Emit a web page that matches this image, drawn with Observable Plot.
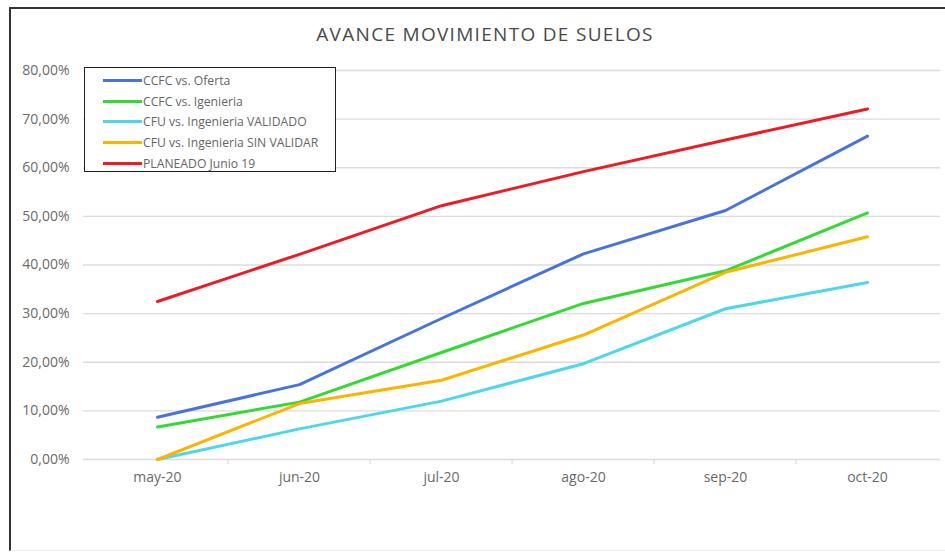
<!DOCTYPE html>
<html><head><meta charset="utf-8">
<script src="https://cdn.jsdelivr.net/npm/d3@7"></script>
<script src="https://cdn.jsdelivr.net/npm/@observablehq/plot@0.6"></script>
<style>
body{margin:0;background:#fff;font-family:"Open Sans",sans-serif;}
#wrap{position:relative;width:945px;height:554px;overflow:hidden;background:#fff;}
#wrap svg{position:absolute;left:0;top:0;}
#frame{position:absolute;left:9px;top:7px;width:960px;height:541px;border-top:2px solid #333;border-left:2px solid #333;border-bottom:1px solid #ececec;}
#title{position:absolute;left:0;width:970px;top:21px;text-align:center;font-size:19px;color:#4a4a4a;letter-spacing:1.3px;}
#legend{position:absolute;left:84px;top:67px;width:252px;height:105px;border:1.5px solid #222;background:#fff;box-sizing:border-box;padding-top:2px;}
.item{display:flex;align-items:center;height:20.8px;font-size:12.2px;color:#666;}
.sw{width:39px;height:3px;margin-left:18px;margin-right:1px;}
</style></head>
<body>
<div id="wrap">
  <div id="frame"></div>
  <div id="title"></div>
  <div id="chart"></div>
  <div id="legend"></div>
</div>
<script>
const titleText = "AVANCE MOVIMIENTO DE SUELOS";
const months = ["may-20","jun-20","jul-20","ago-20","sep-20","oct-20"];
const seriesNames = ["CCFC vs. Oferta","CCFC vs. Igenieria","CFU vs. Ingenieria VALIDADO","CFU vs. Ingenieria SIN VALIDAR","PLANEADO Junio 19"];
const seriesColors = ["#4a72dc","#34d934","#4fd6ea","#fbb400","#ec1c24"];
const ccfcOferta   = [8.7, 15.4, 29.0, 42.3, 51.2, 66.5];
const ccfcIng      = [6.7, 11.8, 22.0, 32.1, 38.8, 50.7];
const cfuValidado  = [0.0, 6.3, 12.0, 19.7, 31.0, 36.4];
const cfuSinValid  = [0.0, 11.5, 16.3, 25.6, 38.5, 45.8];
const planeado     = [32.5, 42.2, 52.2, 59.2, 65.7, 72.1];
const yTicks = [0,10,20,30,40,50,60,70,80];

const allSeries = [ccfcOferta, ccfcIng, cfuValidado, cfuSinValid, planeado];
const data = [];
allSeries.forEach((vals, si) => vals.forEach((v, mi) => data.push({series: seriesNames[si], month: months[mi], value: v})));

document.getElementById("title").textContent = titleText;

const W = 945, H = 554, mL = 83, mR = 5;
const step = (W - mL - mR) / months.length;
const grid = "#dcdcdc";

const chart = Plot.plot({
  width: W, height: H,
  marginLeft: mL, marginRight: mR, marginTop: 70, marginBottom: 95,
  style: {fontFamily: "Open Sans, sans-serif", fontSize: "14px", color: "#6a6a6a", background: "transparent", overflow: "visible"},
  x: {type: "point", domain: months, padding: 0.5, label: null, tickSize: 0, tickPadding: 13},
  y: {domain: [0, 80], ticks: yTicks, tickFormat: d => d.toFixed(2).replace(".", ",") + "%", label: null, tickSize: 0, tickPadding: 14},
  color: {domain: seriesNames, range: seriesColors},
  marks: [
    Plot.ruleY(yTicks, {stroke: grid, strokeWidth: 1.3}),
    Plot.ruleX(months.slice(1), {x: d => d, dx: -step/2, y1: 0, y2: -1.1, stroke: grid, strokeWidth: 1.3}),
    Plot.line(data, {x: "month", y: "value", z: "series", stroke: "series", strokeWidth: 3, strokeLinejoin: "round", strokeLinecap: "round"})
  ]
});
document.getElementById("chart").appendChild(chart);

const leg = document.getElementById("legend");
seriesNames.forEach((n, i) => {
  const row = document.createElement("div"); row.className = "item";
  const sw = document.createElement("span"); sw.className = "sw"; sw.style.background = seriesColors[i];
  const tx = document.createElement("span"); tx.textContent = n;
  row.appendChild(sw); row.appendChild(tx); leg.appendChild(row);
});
</script>
</body></html>
